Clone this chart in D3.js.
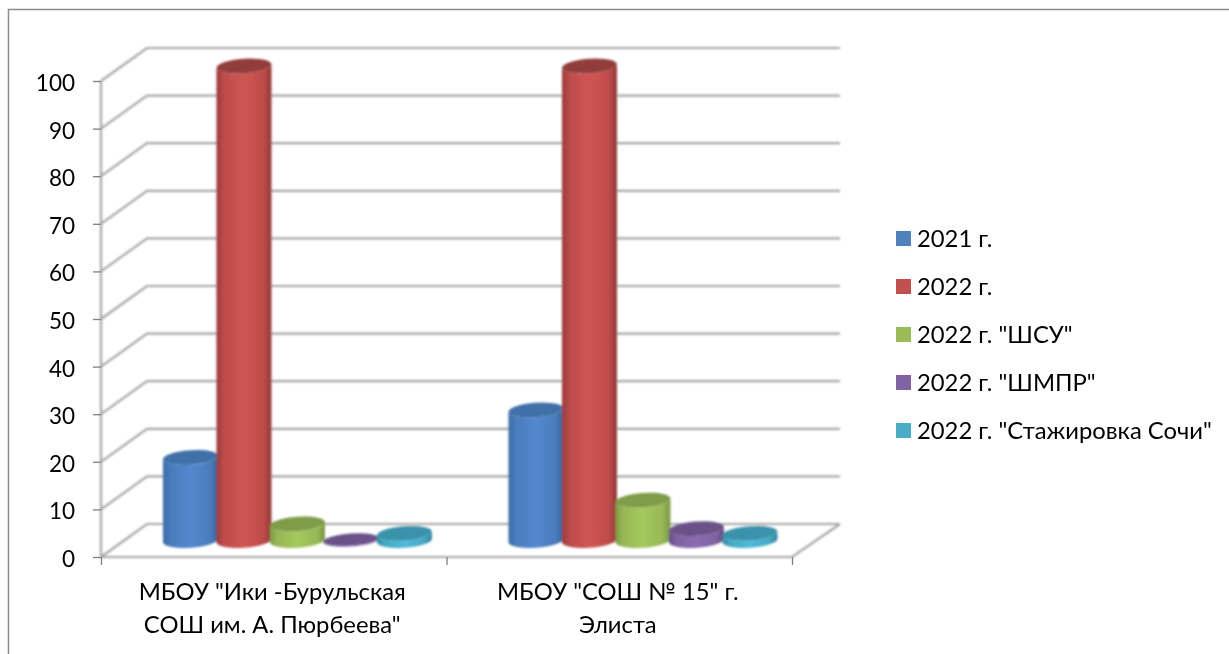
<!DOCTYPE html>
<html><head><meta charset="utf-8">
<script src="https://cdn.jsdelivr.net/npm/d3@7"></script>
<style>html,body{margin:0;padding:0;background:#fff}svg{display:block}text{font-family:Lato,"Open Sans","Noto Sans",sans-serif;fill:#000}</style>
</head><body><div id="c"></div>
<script>
const categories = ['МБОУ "Ики -Бурульская|СОШ им. А. Пюрбеева"', 'МБОУ "СОШ № 15" г.|Элиста'];
const seriesNames = ['2021 г.', '2022 г.', '2022 г. "ШСУ"', '2022 г. "ШМПР"', '2022 г. "Стажировка Сочи"'];
const series2021 = [17.5, 27.5];
const series2022 = [100, 100];
const seriesShsu = [3.5, 8.5];
const seriesShmpr = [0.2, 2.5];
const seriesSochi = [1.5, 1.5];
const yTicks = [0,10,20,30,40,50,60,70,80,90,100];
const colors = [
 {side:['#3a6ba6','#4a7cbb','#5389cf','#4a7cbb','#36639b'], top:'#3f6fa8', key:'#4f81bd'},
 {side:['#983b3a','#bd4c4a','#d05654','#bd4c4a','#8f3634'], top:'#923c3a', key:'#c0504d'},
 {side:['#7f9c48','#97b855','#a4c95d','#97b855','#7a9645'], top:'#7f9c49', key:'#9bbb59'},
 {side:['#644d83','#7e62a1','#8a6cb0','#7e62a1','#5f4a7d'], top:'#6a5188', key:'#8064a2'},
 {side:['#348ba3','#45a8c3','#4fbcd8','#45a8c3','#2f8198'], top:'#3a93ab', key:'#4bacc6'}
];
const allSeries = [series2021, series2022, seriesShsu, seriesShmpr, seriesSochi];

const W=1229,H=654;
const svg=d3.select('#c').append('svg').attr('width',W).attr('height',H);
const defs=svg.append('defs');
const blur=(id,s)=>defs.append('filter').attr('id',id).attr('x','-5%').attr('y','-5%').attr('width','110%').attr('height','110%')
  .append('feGaussianBlur').attr('stdDeviation',s);
blur('soft',0.8); blur('softText',0.2);
const stops=[0,0.14,0.5,0.86,1];
colors.forEach((c,i)=>{
  const g=defs.append('linearGradient').attr('id','g'+i);
  g.selectAll('stop').data(c.side).join('stop')
   .attr('offset',(d,j)=>stops[j]).attr('stop-color',d=>d);
});

// frame
svg.append('path').attr('d',`M8.5,${H} V9.5 H${W}`).attr('fill','none').attr('stroke','#8c8c8c').attr('stroke-width',1.5);

const x0=101,x1=792,y0=557,y100=81,dx=46,dy=-33;
const x=d3.scaleBand().domain(d3.range(categories.length)).range([x0,x1]);
const y=d3.scaleLinear().domain([0,100]).range([y0,y100]);
const yBar=d3.scaleLinear().domain([0,100]).range([540.5,66]);
const inner=d3.scaleBand().domain(d3.range(seriesNames.length)).range([0,267.5]);
const chart=svg.append('g').attr('filter','url(#soft)');

// walls
const grid=chart.append('g').attr('fill','none').attr('stroke','#a6a6a6').attr('stroke-width',2.2);
grid.selectAll('path').data(yTicks).join('path')
  .attr('d',t=>`M${x0},${y(t)} L${x0+dx},${y(t)+dy} H${x1+dx+2}`);
grid.append('path').attr('d',`M${x0},${y0} H${x1} L${x1+dx+2},${y0+dy}`);
grid.append('path').attr('d',`M${x0},${y0} V${y100}`);

// cylinders
const r=27.5, tilt=-4, sinT=Math.sin(tilt*Math.PI/180)*r;
categories.forEach((cat,ci)=>{
  const cg=chart.append('g');
  allSeries.forEach((vals,si)=>{
    const cx=x(ci)+(x.bandwidth()-inner.range()[1])/2+dx/2+0.7+inner(si)+inner.bandwidth()/2;
    const ry=vals[ci]<1?6:7.2;
    const yb=yBar(0), yt=yBar(vals[ci]);
    const g=cg.append('g');
    g.append('path').attr('fill',`url(#g${si})`).attr('d',
      `M${cx-r},${yt-sinT} L${cx-r},${yb-sinT} A${r},${ry} ${tilt} 0 0 ${cx+r},${yb+sinT} L${cx+r},${yt+sinT} A${r},${ry} ${tilt} 0 1 ${cx-r},${yt-sinT} Z`);
    g.append('ellipse').attr('cx',cx).attr('cy',yt).attr('rx',r).attr('ry',ry)
      .attr('transform',`rotate(${tilt} ${cx} ${yt})`).attr('fill',colors[si].top);
  });
});

// axes
const axL=svg.append('g').attr('transform',`translate(${x0},0)`)
  .call(d3.axisLeft(y).tickValues(yTicks).tickSize(8).tickPadding(18).tickSizeOuter(0));
axL.select('.domain').remove();
axL.selectAll('line').attr('stroke','#808080').attr('stroke-width',1.3);
axL.selectAll('text').attr('font-size',22.5).attr('dy','0.42em').attr('filter','url(#softText)');
const axB=svg.append('g').attr('transform',`translate(0,${y0})`)
  .call(d3.axisBottom(d3.scalePoint().domain([0,1,2]).range([x0,x1])).tickSize(8).tickFormat(''));
axB.select('.domain').remove();
axB.selectAll('line').attr('stroke','#808080').attr('stroke-width',1.3);

// category labels
categories.forEach((c,i)=>{
  const t=svg.append('text').attr('text-anchor','middle').attr('font-size',23.8).attr('filter','url(#softText)');
  c.split('|').forEach((ln,j)=>t.append('tspan').attr('x',x(i)+x.bandwidth()/2-1.5).attr('y',600+j*33).text(ln));
});

// legend
const lg=svg.append('g').selectAll('g').data(seriesNames).join('g')
  .attr('transform',(d,i)=>`translate(896,${231+i*48})`);
lg.append('rect').attr('width',15).attr('height',15).attr('fill',(d,i)=>colors[i].key);
lg.append('text').attr('x',21).attr('y',16).attr('font-size',23.8).attr('filter','url(#softText)').text(d=>d);
</script></body></html>
